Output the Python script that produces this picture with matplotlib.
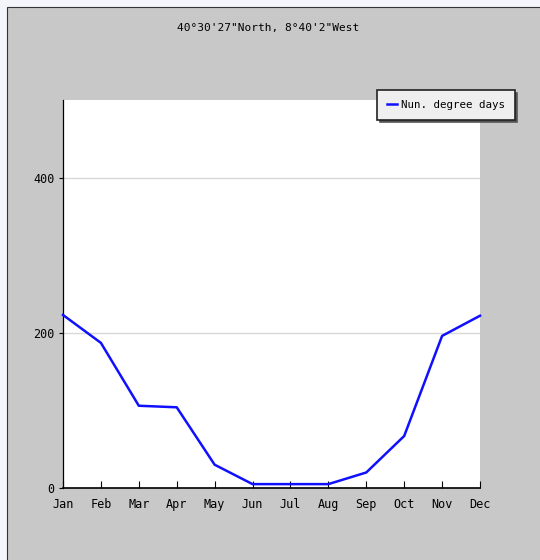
import matplotlib
matplotlib.use("Agg")
import matplotlib.pyplot as plt
from matplotlib.patches import Rectangle

months = ["Jan", "Feb", "Mar", "Apr", "May", "Jun", "Jul", "Aug", "Sep", "Oct", "Nov", "Dec"]
degree_days = [223, 187, 106, 104, 30, 5, 5, 5, 20, 67, 196, 222]
y_ticks = [0, 200, 400]
title = "40°30'27\"North, 8°40'2\"West"
series_label = "Nun. degree days"

fig = plt.figure(figsize=(5.4, 5.6), dpi=100)
fig.patch.set_facecolor("#f4f4fb")
# gray panel with thin dark border
panel = Rectangle((7/540, -0.01), 1.02, 1 - 7/560 + 0.01, transform=fig.transFigure,
                  facecolor="#c8c8c8", edgecolor="#333333", linewidth=0.8, zorder=-10)
fig.patches.append(panel)

ax = fig.add_axes([63/540, 1 - 488/560, 417/540, 388/560])
ax.set_zorder(1)
ax.set_facecolor("white")
x = list(range(len(months)))
line, = ax.plot(x, degree_days, color="#1010ff", linewidth=1.8, label=series_label, zorder=3,
                clip_on=False)
ax.set_xlim(0, 11)
ax.set_ylim(0, 500)
ax.set_xticks(x)
ax.set_xticklabels(months, fontsize=8.5, family="DejaVu Sans Mono")
ax.set_yticks(y_ticks)
ax.set_yticklabels([str(v) for v in y_ticks], fontsize=8.5, family="DejaVu Sans Mono")
ax.tick_params(axis="x", direction="in", length=5, width=0.8, pad=7)
ax.tick_params(axis="y", direction="out", length=3, width=0.8, pad=3)
ax.grid(axis="y", color="#d8d8d8", linewidth=1)
ax.set_axisbelow(True)
for s in ["top", "right"]:
    ax.spines[s].set_visible(False)
ax.spines["left"].set_linewidth(0.9)
ax.spines["bottom"].set_linewidth(1.2)

fig.text(268/540, 1 - 28/560, title, ha="center", va="center", fontsize=8, family="DejaVu Sans Mono")

leg = fig.legend(handles=[line], loc="upper left", bbox_to_anchor=(377/540, 1 - 90/560),
                 prop={"family": "DejaVu Sans Mono", "size": 7.8},
                 frameon=True, fancybox=False, shadow={"color": "#555555", "alpha": 1.0},
                 handlelength=0.9, handletextpad=0.4, borderpad=0.9, borderaxespad=0)
leg.get_frame().set_facecolor("#efefef")
leg.get_frame().set_edgecolor("#222222")
leg.get_frame().set_linewidth(1.2)
leg.set_zorder(5)

fig.savefig("out.png", dpi=100, facecolor=fig.get_facecolor())
